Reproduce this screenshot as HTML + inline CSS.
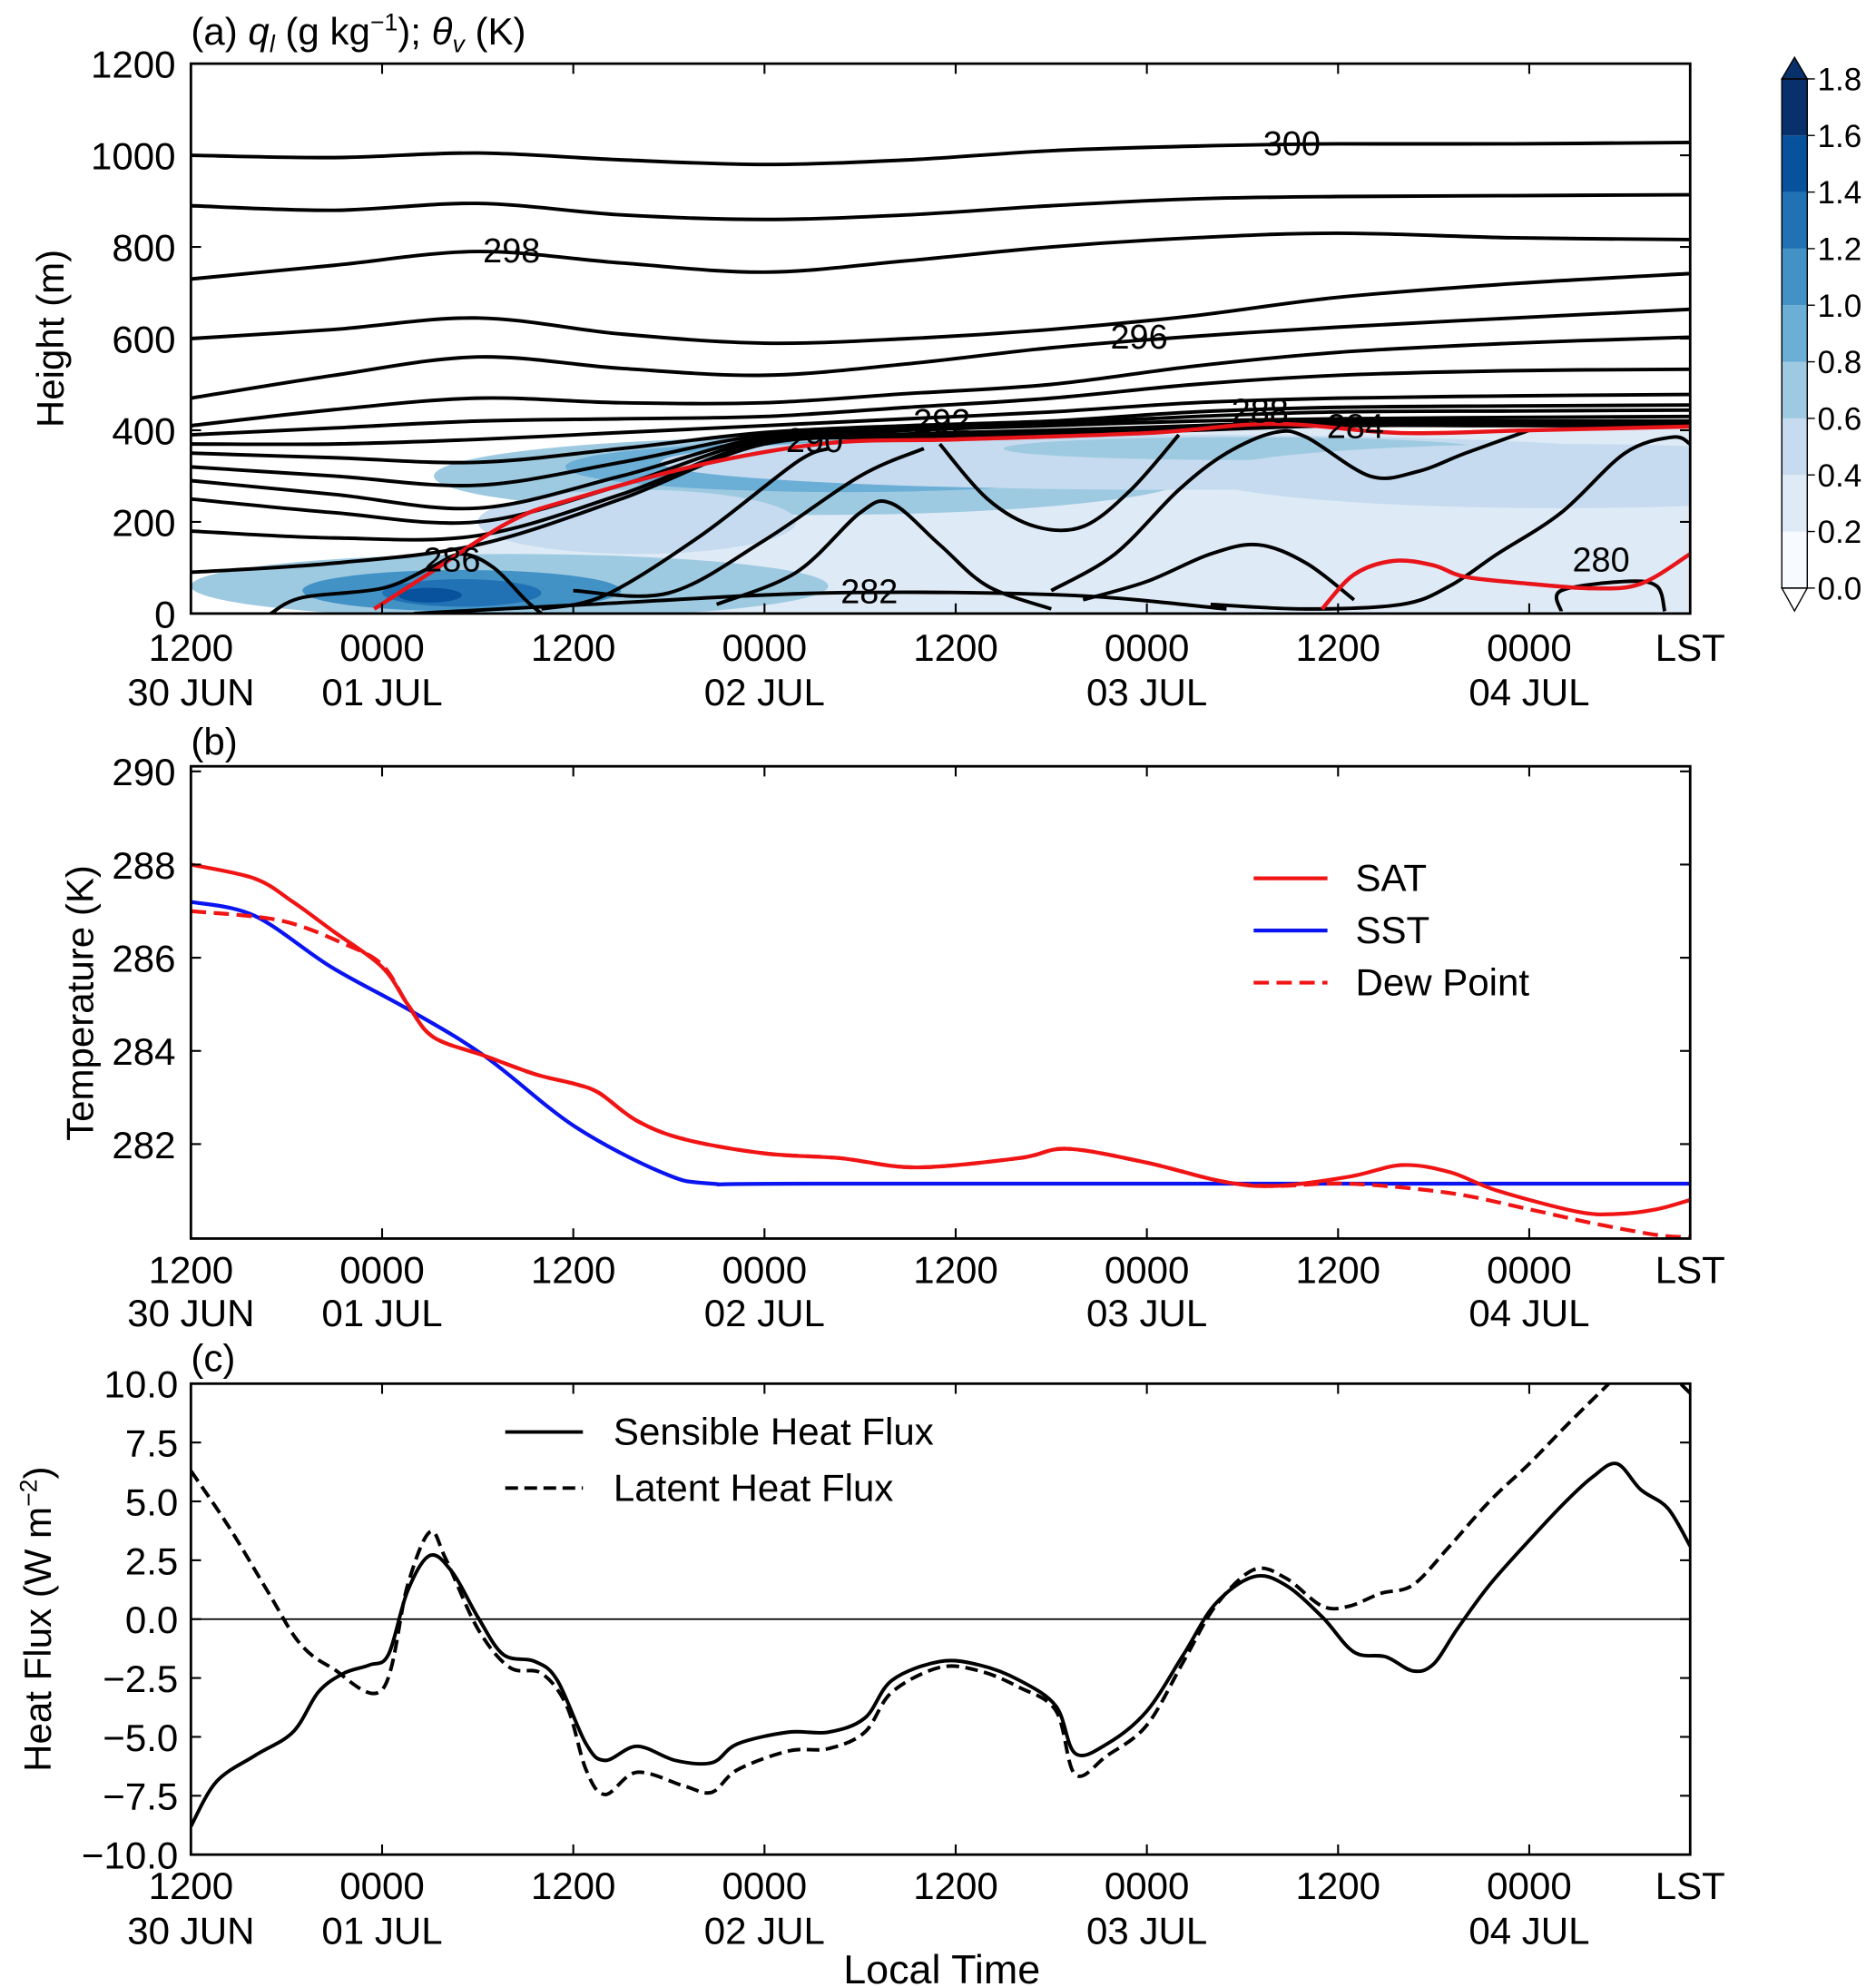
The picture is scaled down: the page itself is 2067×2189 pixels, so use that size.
<!DOCTYPE html>
<html><head><meta charset="utf-8"><style>
html,body{margin:0;padding:0;background:#fff}
svg{display:block;font-family:"Liberation Sans","DejaVu Sans",sans-serif}
</style></head><body>
<svg id="fig" width="2067" height="2189" viewBox="0 0 1474 1561" xmlns="http://www.w3.org/2000/svg">
<defs>
<clipPath id="clipA"><rect x="150" y="50" width="1178" height="432"/></clipPath>
<clipPath id="clipB"><rect x="150" y="602" width="1178" height="371"/></clipPath>
<clipPath id="clipC"><rect x="150" y="1087" width="1178" height="370"/></clipPath>
</defs>
<g id="pa"></g>
<g id="pb"></g>
<g id="pc"></g>
</svg>
<script>
// ---------- DATA ----------
const tickHours = [0,12,24,36,48,60,72,84];
const tickTimes = ["1200","0000","1200","0000","1200","0000","1200","0000"];
const tickDates = ["30 JUN","01 JUL","","02 JUL","","03 JUL","","04 JUL"];
// panel b
const satH = [0,4,6.4,8.8,12,13.6,15.2,18.4,21.6,24,25.6,28,31,36,40.7,45.5,52,55,60,64.7,68,72.7,76,79,82,87,89.5,92,94.1];
const satV = [288.0,287.7,287.2,286.6,285.8,285.0,284.3,283.9,283.5,283.3,283.1,282.5,282.1,281.8,281.7,281.5,281.7,281.9,281.6,281.2,281.1,281.3,281.55,281.4,281.0,280.55,280.5,280.6,280.8];
const sstH = [0,4,8.8,13.6,18.4,24,29.5,32.7,40,94.1];
const sstV = [287.2,286.9,285.8,284.9,283.9,282.4,281.4,281.15,281.15,281.15];
const dewH = [0,5.6,9.6,12,13.6,15.2,18.4,21.6,24,25.6,28,31,36,40.7,45.5,52,55,60,64.7,68,72.7,79,84,88,92,94.1];
const dewV = [287.0,286.8,286.3,285.85,285.0,284.3,283.9,283.5,283.3,283.1,282.5,282.1,281.8,281.7,281.5,281.7,281.9,281.6,281.2,281.1,281.15,280.95,280.6,280.3,280.05,280.0];
const bTicks = [282,284,286,288,290];
// panel c
const shfH = [0,1.6,4,6.4,8,9.6,11.2,12.4,13.6,15,16.4,18,19.6,21.6,23,24.8,26,28,30.4,32.7,34.3,37.5,40,42.3,44,47,49.5,52,54.3,55.5,57.5,60,62.3,64.3,66.7,68.7,71,73,75,76.7,78,79.5,81.5,84,86.3,88,89.5,91,92.7,94.1];
const shfV = [-8.8,-6.9,-5.8,-4.8,-3.1,-2.3,-1.95,-1.5,1.2,2.7,2.0,0.1,-1.5,-1.8,-2.6,-5.3,-6.0,-5.4,-6.0,-6.1,-5.3,-4.8,-4.8,-4.2,-2.6,-1.8,-1.95,-2.6,-3.7,-5.7,-5.3,-3.9,-1.5,0.65,1.8,1.45,0.1,-1.4,-1.6,-2.2,-1.9,-0.4,1.45,3.35,5.0,6.05,6.6,5.5,4.7,3.1];
const lhfH = [0,2.4,4.8,6.8,8.8,12,13.6,15,16,18,20,22,23.6,24.8,26,28,31,32.7,34.3,37.5,40,42.3,44,47,49.5,52,54.3,55.5,57.5,60,62.3,64.3,66.7,68.7,71,72.7,74.7,76.7,79,81.5,84,86.3,88.7,90,92,94.1];
const lhfV = [6.3,3.9,1.2,-1.0,-2.05,-3.0,1.45,3.7,2.55,-0.4,-2.05,-2.3,-3.7,-6.4,-7.45,-6.5,-7.1,-7.35,-6.4,-5.6,-5.5,-4.8,-3.1,-2.05,-2.2,-2.9,-3.9,-6.6,-5.8,-4.5,-1.8,0.55,2.1,1.75,0.55,0.55,1.1,1.45,3.1,5.0,6.6,8.2,9.8,10.6,10.8,9.6];
const cTicks = [-10,-7.5,-5,-2.5,0,2.5,5,7.5,10];
const cTickLabels = ["\u221210.0","\u22127.5","\u22125.0","\u22122.5","0.0","2.5","5.0","7.5","10.0"];
// panel a
const aTicks = [0,200,400,600,800,1000,1200];
const pblH = [11.5,14.4,20,24,32,40,48,60,68,76,84,94.1];
const pblZ = [10,75,200,250,325,372,380,394,414,394,400,408];
const red2H = [71,73,75.5,78,80,84,88,91,94.1];
const red2Z = [10,85,115,105,80,65,55,65,130];
const thetaHours = [0,9,18,27,36,45,54,63,72,83,94.1];
const theta1 = [1000,995,1005,990,980,990,1010,1020,1025,1025,1028];
const theta2 = [890,880,895,870,860,870,890,905,910,912,914];
const theta3 = [730,760,790,765,745,770,800,820,830,820,816];
const theta4 = [600,620,645,610,590,600,620,650,690,720,742];
const theta5 = [470,520,560,535,520,545,580,605,625,645,664];
const theta6 = [410,445,470,460,460,480,500,540,570,590,603];
const theta7 = [390,405,420,425,430,450,470,500,520,530,533];
const theta8 = [370,370,380,395,410,425,440,460,470,475,478];
const theta9 = [350,340,330,360,395,410,420,440,450,453,455];
const theta10 = [320,300,280,330,390,405,415,430,440,442,444];
const theta11 = [290,260,230,300,385,400,410,420,425,428,430];
const theta12 = [250,220,200,280,380,392,400,410,420,420,420];
const theta13 = [180,165,170,260,375,388,395,405,415,415,415];
const theta14 = [90,110,150,250,370,384,392,400,410,410,410];
const inner1 = [[5,0],[7,35],[12,55],[15,100],[17,130],[19,100],[21,30],[22,0]];
const inner2 = [[22,10],[26,40],[32,170],[38,330],[40,360]];
const inner3 = [[24,50],[30,45],[36,160],[42,300],[46,360]];
const inner4 = [[33,20],[38,90],[42,220],[44,240],[47,150],[50,60],[54,10]];
const inner5 = [[47,370],[50,250],[53,190],[56,190],[59,270],[62,390]];
const inner6 = [[54,50],[58,130],[62,270],[65,350],[68,395],[70,385],[74,300],[77,310],[80,350],[84,400]];
const inner7 = [[56,30],[60,70],[64,130],[67,150],[70,110],[73,30]];
const inner8 = [[64,20],[70,10],[76,20],[79,60],[82,130],[86,220],[90,350],[93,385],[94.1,370]];
const inner9 = [[86,5],[86,50],[90,70],[92,60],[92.5,5]];
const inner10 = [[14,0],[25,20],[40,45],[55,40],[65,10]];
const cbLevels = [0,0.2,0.4,0.6,0.8,1.0,1.2,1.4,1.6,1.8];
const cbColors = ["#f7fbff","#deebf7","#c6dbef","#9ecae1","#6baed6","#4292c6","#2171b5","#08519c","#08306b"];

// ---------- helpers ----------
const NS="http://www.w3.org/2000/svg";
const X0=150,X1=1328,HMAX=94.1;
function xs(h){return X0+h/HMAX*(X1-X0);}
function ya(z){return 482-z/1200*432;}
function yb(t){return 972-(t-280)/10*366;}
function yc(v){return 1272-v*18.5;}
function mk(tag,attrs,parent){const e=document.createElementNS(NS,tag);for(const k in attrs)e.setAttribute(k,attrs[k]);parent.appendChild(e);return e;}
function smooth(pts){
  if(pts.length<3)return pts.map((p,i)=>(i?"L":"M")+p[0].toFixed(1)+","+p[1].toFixed(1)).join("");
  let d="M"+pts[0][0].toFixed(1)+","+pts[0][1].toFixed(1);
  for(let i=0;i<pts.length-1;i++){
    const p0=pts[Math.max(0,i-1)],p1=pts[i],p2=pts[i+1],p3=pts[Math.min(pts.length-1,i+2)];
    const c1=[p1[0]+(p2[0]-p0[0])/6,p1[1]+(p2[1]-p0[1])/6];
    const c2=[p2[0]-(p3[0]-p1[0])/6,p2[1]-(p3[1]-p1[1])/6];
    d+="C"+c1[0].toFixed(1)+","+c1[1].toFixed(1)+" "+c2[0].toFixed(1)+","+c2[1].toFixed(1)+" "+p2[0].toFixed(1)+","+p2[1].toFixed(1);
  }
  return d;
}
function pathFrom(hs,vs,yf){return hs.map((h,i)=>(i?"L":"M")+xs(h).toFixed(1)+","+yf(vs[i]).toFixed(1)).join("");}
function smoothFrom(hs,vs,yf){return smooth(hs.map((h,i)=>[xs(h),yf(vs[i])]));}
function smoothPairs(p,yf){return smooth(p.map(q=>[xs(q[0]),yf(q[1])]));}
function txt(parent,x,y,s,size,anchor){const t=mk("text",{x:x,y:y,"font-size":size,"text-anchor":anchor||"middle",fill:"#000"},parent);t.textContent=s;return t;}

const FS=30;
function timeAxis(g,yTop,yBot,row1,row2){
  tickHours.forEach((h,i)=>{
    const x=xs(h);
    const tk=mk("line",{x1:x,x2:x,y1:yBot,y2:yBot-8,stroke:"#000","stroke-width":1.5},g);
    
    
    mk("line",{x1:x,x2:x,y1:yTop,y2:yTop+8,stroke:"#000","stroke-width":1.5},g);
    const t=txt(g,x,row1,tickTimes[i],FS);
    
    
    if(tickDates[i]){const d=txt(g,x,row2,tickDates[i],FS);
      
      }
  });
  const l=txt(g,X1,row1,"LST",FS);
  
  
}
function frame(g,yTop,yBot){
  const r=mk("rect",{x:X0,y:yTop,width:X1-X0,height:yBot-yTop,fill:"none",stroke:"#000","stroke-width":2},g);
  
  
}

// ---------- Panel A ----------
const pa=document.getElementById("pa");
const ca=mk("g",{"clip-path":"url(#clipA)"},pa);
const fillTop=smoothFrom(pblH,pblZ,ya);
const shade1=mk("path",{d:fillTop+"L"+xs(94.1)+","+ya(0)+"L"+xs(11.5)+","+ya(0)+"Z",fill:"#deebf7"},ca);


const blobs=[[20,60,80,70,"#9ecae1"],[17,50,40,45,"#4292c6"],[17,45,20,30,"#2171b5"],[15,40,8,16,"#08519c"],[39,300,95,85,"#9ecae1"],[41,320,70,55,"#6baed6"],[41,330,45,35,"#4292c6"],[28,200,40,70,"#c6dbef"],[62,330,130,60,"#c6dbef"],[66,360,60,25,"#9ecae1"],[86,300,90,70,"#c6dbef"]];
blobs.forEach(b=>{const e=mk("ellipse",{cx:xs(b[0]),cy:ya(b[1]),rx:b[2]*(X1-X0)/HMAX/4,ry:b[3]*0.36,fill:b[4]},ca);
  
  });
[theta1,theta2,theta3,theta4,theta5,theta6,theta7,theta8,theta9,theta10,theta11,theta12,theta13,theta14].forEach(arr=>{
  const p=mk("path",{d:smoothFrom(thetaHours,arr,ya),fill:"none",stroke:"#000","stroke-width":2.8,"stroke-linejoin":"round"},ca);
  
  
});
[inner1,inner2,inner3,inner4,inner5,inner6,inner7,inner8,inner9,inner10].forEach(arr=>{
  const p=mk("path",{d:smoothPairs(arr,ya),fill:"none",stroke:"#000","stroke-width":2.8},ca);
  
  
});
const red1=mk("path",{d:fillTop,fill:"none",stroke:"#e8141a","stroke-width":3.2},ca);


const red2=mk("path",{d:smoothFrom(red2H,red2Z,ya),fill:"none",stroke:"#e8141a","stroke-width":3.2},ca);


[["300",1015,122],["298",402,206],["296",895,274],["292",740,340],["290",640,355],["288",990,332],["284",1065,344],["282",683,474],["286",355,449],["280",1258,449]].forEach(l=>{
  const t=txt(pa,l[1],l[2],l[0],27);
  
  
});
frame(pa,50,482);
aTicks.forEach(v=>{const y=ya(v);
  mk("line",{x1:X0,x2:X0+8,y1:y,y2:y,stroke:"#000","stroke-width":1.5},pa);
  mk("line",{x1:X1,x2:X1-8,y1:y,y2:y,stroke:"#000","stroke-width":1.5},pa);
  const t=txt(pa,138,y+11,String(v),FS,"end");
  
  });
timeAxis(pa,50,482,519,554);
const yta=txt(pa,0,0,"Height (m)",FS);
yta.setAttribute("transform","translate(50,266) rotate(-90)");


const ta=mk("text",{x:150,y:35,"font-size":FS},pa);


ta.innerHTML='(a) <tspan font-style="italic">q</tspan><tspan font-style="italic" font-size="19" dy="6">l</tspan><tspan dy="-6"> (g kg</tspan><tspan font-size="19" dy="-11">\u22121</tspan><tspan dy="11">); </tspan><tspan font-style="italic">\u03b8</tspan><tspan font-style="italic" font-size="19" dy="6">v</tspan><tspan dy="-6"> (K)</tspan>';
const cb=mk("g",{},pa);


function ycb(v){return 462-v/1.8*400;}
cbColors.forEach((c,i)=>{mk("rect",{x:1400,y:ycb(cbLevels[i+1]),width:20,height:ycb(cbLevels[i])-ycb(cbLevels[i+1]),fill:c},cb);});
mk("polygon",{points:"1400,62 1420,62 1410,45",fill:"#08306b",stroke:"#000","stroke-width":1},cb);
mk("polygon",{points:"1400,462 1420,462 1410,480",fill:"#fff",stroke:"#000","stroke-width":1},cb);
mk("rect",{x:1400,y:62,width:20,height:400,fill:"none",stroke:"#000","stroke-width":1},cb);
cbLevels.forEach(v=>{const y=ycb(v);
  mk("line",{x1:1420,x2:1426,y1:y,y2:y,stroke:"#000","stroke-width":1},cb);
  const t=txt(cb,1428,y+9,v.toFixed(1),25,"start");
  
  });

// ---------- Panel B ----------
const pb=document.getElementById("pb");
const cbg=mk("g",{"clip-path":"url(#clipB)"},pb);
const sst=mk("path",{d:smoothFrom(sstH,sstV,yb),fill:"none",stroke:"#0a14f0","stroke-width":3},cbg);


const dew=mk("path",{d:smoothFrom(dewH,dewV,yb),fill:"none",stroke:"#f01414","stroke-width":3,"stroke-dasharray":"12,6"},cbg);


const sat=mk("path",{d:smoothFrom(satH,satV,yb),fill:"none",stroke:"#f01414","stroke-width":3},cbg);


frame(pb,602,973);
bTicks.forEach(v=>{const y=yb(v);
  mk("line",{x1:X0,x2:X0+8,y1:y,y2:y,stroke:"#000","stroke-width":1.5},pb);
  mk("line",{x1:X1,x2:X1-8,y1:y,y2:y,stroke:"#000","stroke-width":1.5},pb);
  const t=txt(pb,138,y+11,String(v),FS,"end");
  
  });
timeAxis(pb,602,973,1008,1042);
const ytb=txt(pb,0,0,"Temperature (K)",FS);
ytb.setAttribute("transform","translate(73,788) rotate(-90)");


const tb=txt(pb,150,593,"(b)",FS,"start");


const legB=mk("g",{},pb);


[["SAT","#f01414",""],["SST","#0a14f0",""],["Dew Point","#f01414","12,6"]].forEach((e,i)=>{
  const y=690+i*41;
  const l=mk("line",{x1:985,x2:1043,y1:y,y2:y,stroke:e[1],"stroke-width":3},legB);
  if(e[2])l.setAttribute("stroke-dasharray",e[2]);
  const t=txt(legB,1065,y+10,e[0],FS,"start");
  
  
});

// ---------- Panel C ----------
const pc=document.getElementById("pc");
const ccg=mk("g",{"clip-path":"url(#clipC)"},pc);
mk("line",{x1:X0,x2:X1,y1:yc(0),y2:yc(0),stroke:"#000","stroke-width":1.3},ccg);
const lhf=mk("path",{d:smoothFrom(lhfH,lhfV,yc),fill:"none",stroke:"#000","stroke-width":2.8,"stroke-dasharray":"10,5"},ccg);


const shf=mk("path",{d:smoothFrom(shfH,shfV,yc),fill:"none",stroke:"#000","stroke-width":2.8},ccg);


frame(pc,1087,1457);
cTicks.forEach((v,i)=>{const y=yc(v);
  mk("line",{x1:X0,x2:X0+8,y1:y,y2:y,stroke:"#000","stroke-width":1.5},pc);
  mk("line",{x1:X1,x2:X1-8,y1:y,y2:y,stroke:"#000","stroke-width":1.5},pc);
  const t=txt(pc,140,y+11,cTickLabels[i],FS,"end");
  
  });
timeAxis(pc,1087,1457,1492,1527);
const ytc=mk("text",{"font-size":FS,"text-anchor":"middle"},pc);
ytc.setAttribute("transform","translate(40,1272) rotate(-90)");
ytc.innerHTML='Heat Flux (W m<tspan font-size="19" dy="-11">\u22122</tspan><tspan dy="11">)</tspan>';


const tc=txt(pc,150,1077,"(c)",FS,"start");


const xt=txt(pc,740,1558,"Local Time",32);


const legC=mk("g",{},pc);


[["Sensible Heat Flux",""],["Latent Heat Flux","10,5"]].forEach((e,i)=>{
  const y=1125+i*44;
  const l=mk("line",{x1:397,x2:458,y1:y,y2:y,stroke:"#000","stroke-width":2.8},legC);
  if(e[1])l.setAttribute("stroke-dasharray",e[1]);
  const t=txt(legC,482,y+10,e[0],FS,"start");
  
  
});
</script>
</body></html>
